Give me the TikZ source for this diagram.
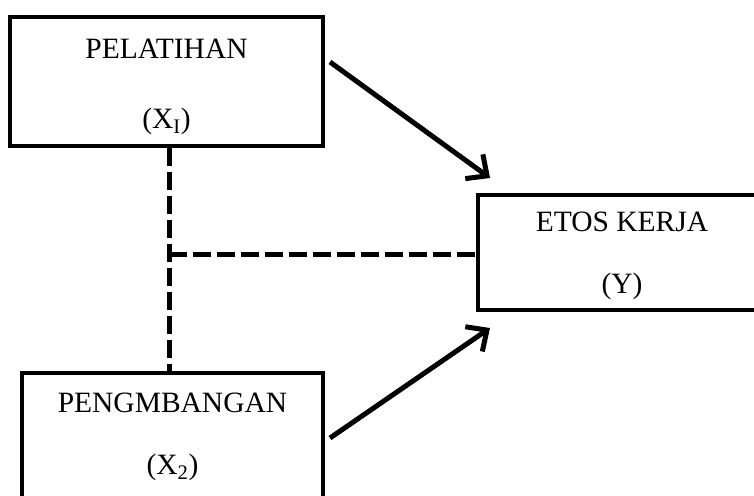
\documentclass[tikz,border=0pt]{standalone}
\usepackage{fontspec}
\setmainfont{Liberation Serif}
\usetikzlibrary{arrows.meta}

\newcommand\topgap{\rule{0pt}{31pt}}

\tikzset{
	varbox/.style={draw, line width=4pt, rectangle, align=center, inner sep=0pt,
		font=\fontsize{29.5}{34}\selectfont},
	link/.style={line width=5pt, dash pattern=on 18pt off 6pt},
	effect/.style={line width=5pt, -{Straight Barb[length=16pt, width=30pt]}}
}

\begin{document}
\begin{tikzpicture}[x=1pt, y=-1pt]
	\clip (0,0) rectangle (754,495);
	
	\node [varbox, minimum width=313pt, minimum height=129pt] (x1) at (166.5,81.5) {\topgap PELATIHAN\\[36pt](X\textsubscript{I})};
	\node [varbox, minimum width=320pt, minimum height=115pt] (y) at (638,252.5) {};
	\node [font=\fontsize{29.5}{34}\selectfont, align=center] (ytext) at (622,256) {ETOS KERJA\\[28pt](Y)};
	\node [varbox, minimum width=301pt, minimum height=127pt] (x2) at (172.5,436.5) {PENGMBANGAN\\[28pt](X\textsubscript{2})};
	
	\coordinate (j) at (169,254);
	\coordinate (a1) at (330,62);
	\coordinate (b1) at (490,178);
	\coordinate (a2) at (330,438);
	\coordinate (b2) at (490,328);
	
	\draw [link] (j |- x1.south) -- (j |- x2.north);
	\draw [link] (j) -- (j -| y.west);
	\draw [effect] (a1) -- (b1);
	\draw [effect] (a2) -- (b2);
\end{tikzpicture}
\end{document}
